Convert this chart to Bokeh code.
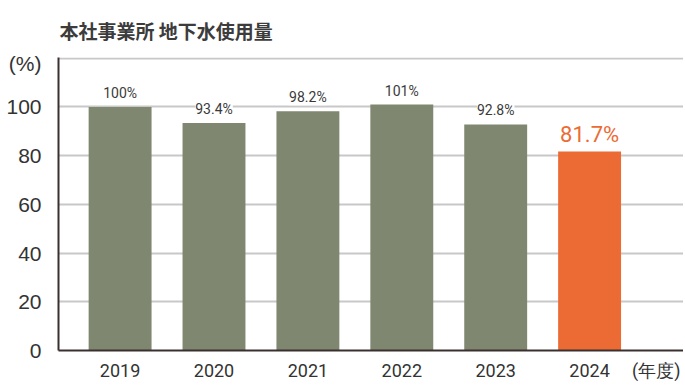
from bokeh.plotting import figure
from bokeh.models import ColumnDataSource, Range1d, FixedTicker
from bokeh.core.properties import value
from bokeh.embed import file_html
from bokeh.resources import INLINE

# ---- data ----
years = ["2019", "2020", "2021", "2022", "2023", "2024"]
values = [100, 93.4, 98.2, 101, 92.8, 81.7]
value_labels = ["100%", "93.4%", "98.2%", "101%", "92.8%", "81.7%"]
highlight = [False, False, False, False, False, True]
base_color = "#7f8771"
accent_color = "#ec6b34"
y_ticks = [0, 20, 40, 60, 80, 100]
x_unit_label = "(年度)"
y_unit_label = "(%)"
title_text = "本社事業所 地下水使用量"

xs = list(range(len(years)))
bar_colors = [accent_color if h else base_color for h in highlight]
src = ColumnDataSource(dict(x=xs, top=values, color=bar_colors))

norm_idx = [i for i, h in enumerate(highlight) if not h]
hi_idx = [i for i, h in enumerate(highlight) if h]
src_norm = ColumnDataSource(dict(x=[xs[i] for i in norm_idx], top=[values[i] for i in norm_idx],
                                 label=[value_labels[i] for i in norm_idx]))
src_hi = ColumnDataSource(dict(x=[xs[i] for i in hi_idx], top=[values[i] for i in hi_idx],
                               label=[value_labels[i] for i in hi_idx]))

p = figure(frame_width=625, frame_height=293, output_backend="svg", toolbar_location=None,
           x_range=Range1d(-0.656, 6.0), y_range=Range1d(0, 120.3),
           min_border_left=58, min_border_right=0, min_border_top=57, min_border_bottom=30)
p.title.text = title_text
p.title.text_font = "Noto Sans CJK JP"
p.title.text_font_size = "19px"
p.title.text_font_style = "bold"
p.title.text_color = "#3c3c3c"
p.title.align = "left"
p.title.offset = 1
p.title.standoff = 28

p.outline_line_color = None
p.background_fill_color = "white"
p.border_fill_color = "white"

p.vbar(x="x", top="top", width=0.67, bottom=0, fill_color="color", line_color=None, source=src)

p.text(x="x", y="top", text="label", source=src_norm, text_align="center",
       text_baseline="bottom", y_offset=-6, text_color="#3a3a3a",
       text_font_size="14px", text_font=value("Roboto"),
       background_fill_color="white")
p.text(x="x", y="top", text="label", source=src_hi, text_align="center",
       text_baseline="bottom", y_offset=-5, text_color=accent_color,
       text_font_size="22px", text_font=value("Roboto"))

# grid
p.xgrid.visible = False
p.ygrid.ticker = FixedTicker(ticks=[20, 40, 60, 80, 100, 120])
p.ygrid.grid_line_color = "#c8c8c8"
p.ygrid.grid_line_width = 2

# y axis
unit_pos_y = 118
p.yaxis.ticker = FixedTicker(ticks=y_ticks + [unit_pos_y])
p.yaxis.major_label_overrides = {unit_pos_y: y_unit_label}
p.yaxis.axis_line_color = "#3a3030"
p.yaxis.axis_line_width = 2
p.yaxis.major_tick_line_color = None
p.yaxis.minor_tick_line_color = None
p.yaxis.major_label_standoff = 11
p.yaxis.major_label_text_font = "Liberation Sans"
p.yaxis.major_label_text_font_size = "21px"
p.yaxis.major_label_text_color = "#333333"

# x axis
unit_pos_x = 5.71
p.xaxis.ticker = FixedTicker(ticks=xs + [unit_pos_x])
p.xaxis.major_label_overrides = {**{i: y for i, y in zip(xs, years)}, unit_pos_x: x_unit_label}
p.xaxis.axis_line_color = "#3a3030"
p.xaxis.axis_line_width = 2
p.xaxis.major_tick_line_color = None
p.xaxis.minor_tick_line_color = None
p.xaxis.major_label_standoff = 3
p.xaxis.major_label_text_font = "Roboto"
p.xaxis.major_label_text_font_size = "18px"
p.xaxis.major_label_text_color = "#333333"

open("out.html", "w").write(file_html(p, INLINE))
